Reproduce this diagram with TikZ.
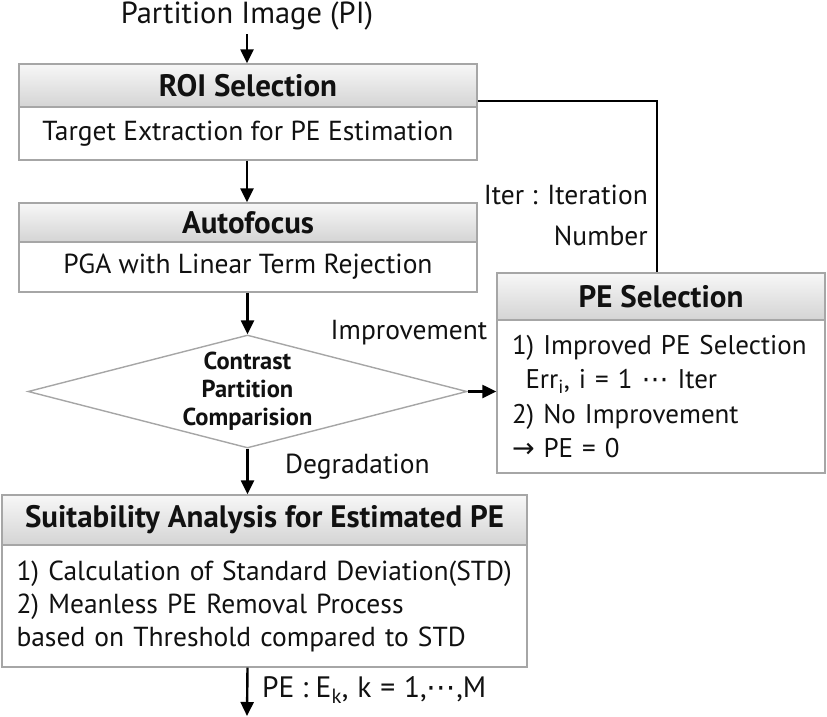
\documentclass[tikz,border=0pt]{standalone}
\usepackage{fontspec}
\setmainfont{PT Sans}
\newfontfamily\arrowfont{DejaVu Sans}
\usetikzlibrary{arrows.meta,shapes.geometric}
\definecolor{BoxLine}{HTML}{A6A6A6}
\definecolor{HeadTop}{HTML}{F7F7F7}
\definecolor{HeadBot}{HTML}{D4D4D4}
\definecolor{InkDark}{HTML}{111111}
\tikzset{
  headbox/.style={rectangle, draw=BoxLine, line width=1.4pt, top color=HeadTop,
                  bottom color=HeadBot, inner sep=0pt, text=InkDark,
                  font=\fontsize{31}{34}\selectfont\bfseries},
  bodybox/.style={rectangle, draw=BoxLine, line width=1.4pt, fill=white,
                  inner sep=0pt, text=InkDark, font=\fontsize{27.5}{33}\selectfont},
  decbox/.style={diamond, draw=BoxLine, line width=1.4pt, fill=white, inner sep=0pt},
  flow/.style={-{Triangle[length=14pt,width=13pt]}, line width=2.4pt, draw=black},
  fbkline/.style={line width=2.2pt, draw=black},
  tlabel/.style={font=\fontsize{27.5}{30}\selectfont, inner sep=0pt, text=InkDark},
}

\begin{document}
\begin{tikzpicture}[x=1pt,y=-1pt]
\useasboundingbox (0,0) rectangle (827,716);
\node[tlabel, font=\fontsize{30.5}{33}\selectfont] (pi) at (247,16) {Partition Image (PI)};
% main column
\node[headbox, minimum width=458pt, minimum height=43pt] (roihead) at (248,85.5) {ROI Selection};
\node[bodybox, minimum width=458pt, minimum height=53pt] (roibody) at (248,133.5) {Target Extraction for PE Estimation};
\node[headbox, minimum width=458pt, minimum height=39pt] (afhead) at (248,222.5) {Autofocus};
\node[bodybox, minimum width=458pt, minimum height=50pt] (afbody) at (248,267) {PGA with Linear Term Rejection};
\node[decbox, minimum width=439pt, minimum height=113pt] (cmp) at (247.5,391.5) {};
\node[font=\fontsize{24.5}{28}\selectfont\bfseries, align=center, inner sep=0pt, text=InkDark] (cmptxt) at (cmp.center) {Contrast\\Partition\\Comparision};
\node[headbox, minimum width=525pt, minimum height=50pt] (suithead) at (264.5,520) {Suitability Analysis for Estimated PE};
\node[bodybox, minimum width=525pt, minimum height=122pt, text width=496pt, align=left] (suitbody) at (264.5,606)
  {1) Calculation of Standard Deviation(STD)\\2) Meanless PE Removal Process\\based on Threshold compared to STD};
% side box
\node[headbox, minimum width=328pt, minimum height=47pt] (pehead) at (661,296.5) {PE Selection};
\node[bodybox, minimum width=328pt, minimum height=153pt, text width=298pt, align=left,
      font=\fontsize{27}{34.5}\selectfont] (pebody) at (661,396.5)
  {1) Improved PE Selection\\\hspace*{0.5em}Err\textsubscript{i}, i = 1 {\arrowfont ⋯} Iter\\2) No Improvement\\{\arrowfont →} PE = 0};
% connectors
\coordinate (fbk) at (657,101);
\coordinate (out) at (247,716);
\draw[flow] ([yshift=-4pt]pi.south) -- (pi.south |- roihead.north);
\draw[flow] (roibody.south -| pi.south) -- (pi.south |- afhead.north);
\draw[flow] (afbody.south -| cmp.north) -- (cmp.north);
\draw[flow] (cmp.east) -- (cmp.east -| pebody.west);
\draw[flow] (cmp.south) -- (cmp.south |- suithead.north);
\draw[flow] (suitbody.south -| cmp.south) -- (out);
\draw[fbkline] (roihead.east |- fbk) -- (fbk) -- (fbk |- pehead.north);
% labels
\node[tlabel] (impr) at (409,333) {Improvement};
\node[tlabel, anchor=west] (degr) at (285,467) {Degradation};
\node[tlabel, anchor=east] (iter) at (648,195) {Iter : Iteration};
\node[tlabel, anchor=east] (iternum) at (648,236) {Number};
\node[tlabel, anchor=west, font=\fontsize{29.5}{32}\selectfont] (pek) at (262,690)
  {PE\hspace{0.25em}:\hspace{0.25em}E\textsubscript{k},\hspace{0.3em}k\hspace{0.3em}=\hspace{0.3em}1,{\arrowfont ⋯},M};
\end{tikzpicture}
\end{document}
